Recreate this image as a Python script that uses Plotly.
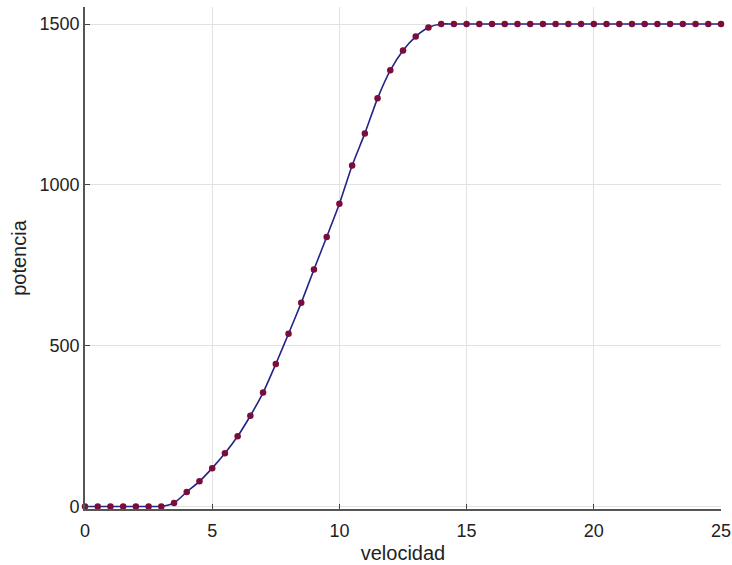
import plotly.graph_objects as go

velocidad = [i * 0.5 for i in range(51)]
potencia = [0, 0, 0, 0, 0, 0, 0, 11, 45, 78, 119, 165, 218, 282, 354, 443,
            537, 633, 737, 838, 941, 1060, 1160, 1269, 1356, 1418, 1461, 1489,
            1500] + [1500] * 22

x_ticks = [0, 5, 10, 15, 20, 25]
y_ticks = [0, 500, 1000, 1500]

fig = go.Figure()
fig.add_trace(go.Scatter(
    x=velocidad, y=potencia, mode="lines",
    line=dict(color="#23238a", width=1.6, shape="spline", smoothing=0.6),
    hoverinfo="skip", showlegend=False, cliponaxis=False))
fig.add_trace(go.Scatter(
    x=velocidad, y=potencia, mode="markers",
    marker=dict(color="#7a0d3a", size=6.5, line=dict(width=0)),
    showlegend=False, cliponaxis=False))

axis_common = dict(
    showgrid=True, gridcolor="#e2e2e2", gridwidth=1,
    showline=True, linecolor="#555555", linewidth=1.6,
    ticks="inside", ticklen=5, tickwidth=1.3, tickcolor="#444444",
    zeroline=False, mirror=False, automargin=False,
    tickfont=dict(family="Liberation Sans, Arial", size=18, color="#222222"),
)

fig.update_layout(
    width=732, height=565,
    margin=dict(l=85, r=11, t=7, b=56),
    paper_bgcolor="white", plot_bgcolor="white",
    xaxis=dict(range=[0, 25], tickvals=x_ticks, ticklabelstandoff=5,
               title=dict(text="velocidad", standoff=6,
                          font=dict(family="Liberation Sans, Arial", size=20, color="#222222")),
               **axis_common),
    yaxis=dict(range=[-8, 1553], tickvals=y_ticks,
               title=dict(text="potencia", standoff=8,
                          font=dict(family="Liberation Sans, Arial", size=20, color="#222222")),
               **axis_common),
)

fig.write_html("out.html")
